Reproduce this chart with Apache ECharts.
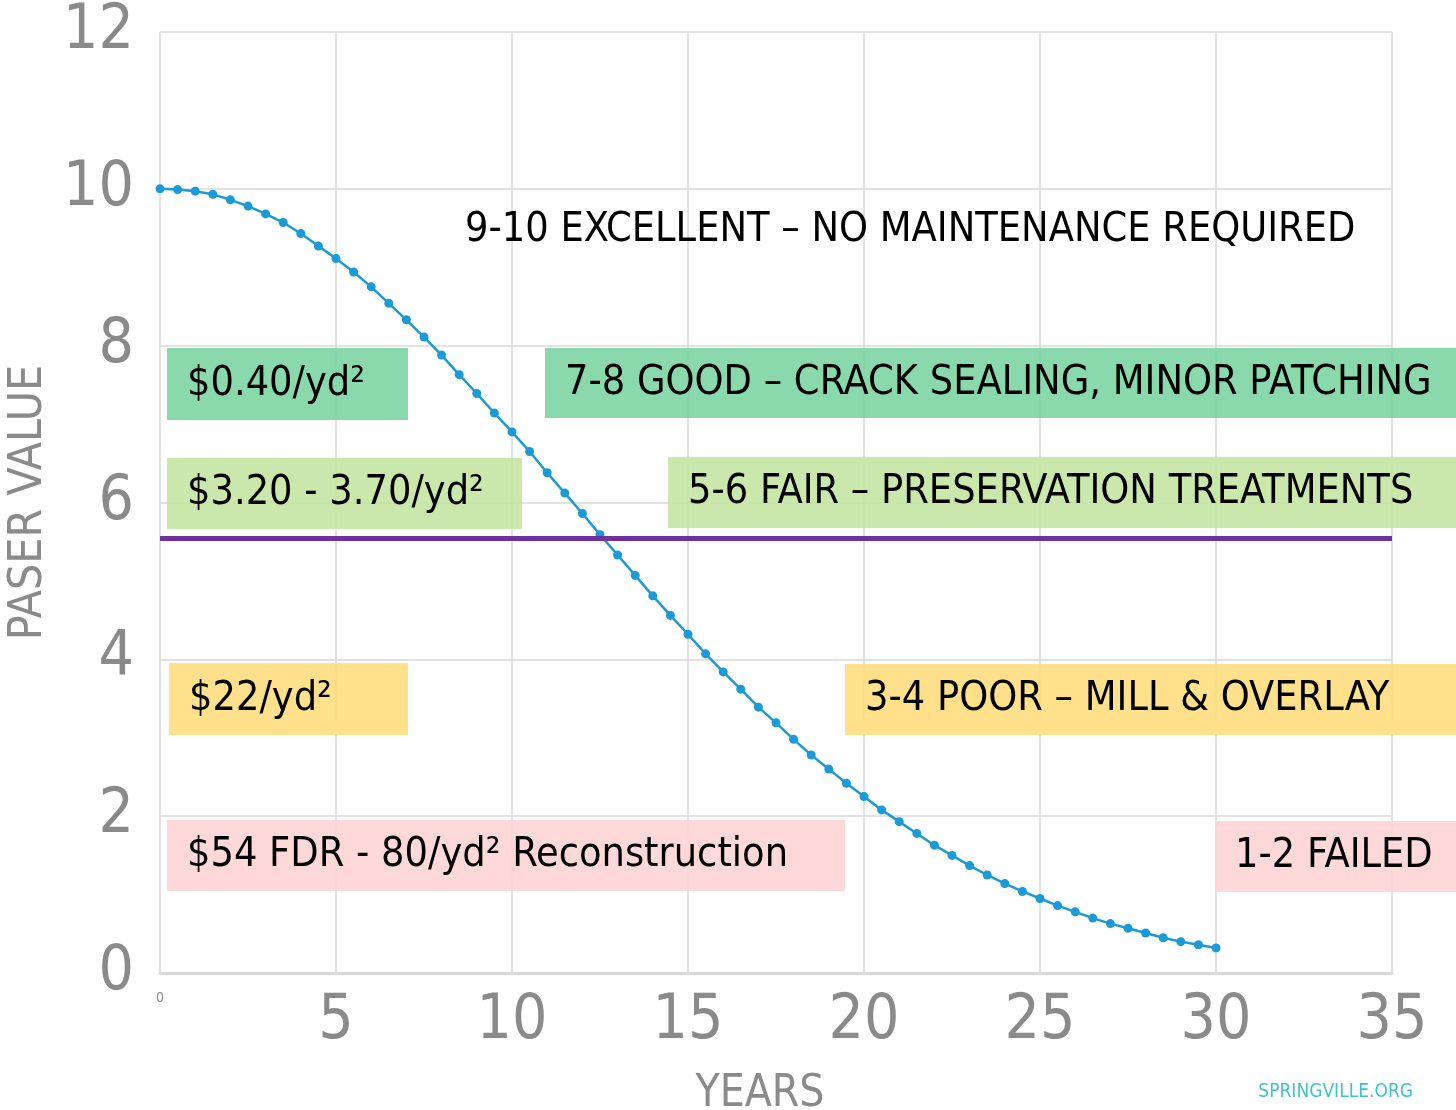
<!DOCTYPE html>
<html>
<head>
<meta charset="utf-8">
<title>PASER value over years</title>
<script src="https://cdn.jsdelivr.net/npm/echarts@6/dist/echarts.min.js"></script>
<style>
  html, body { margin: 0; padding: 0; background: #fff; }
  #chart { width: 1456px; height: 1110px; }
</style>
</head>
<body>
<div id="chart"></div>
<script>
// pavement condition curve (every half year)
const years = [
  0, 0.5, 1, 1.5, 2, 2.5, 3, 3.5, 4, 4.5,
  5, 5.5, 6, 6.5, 7, 7.5, 8, 8.5, 9, 9.5,
  10, 10.5, 11, 11.5, 12, 12.5, 13, 13.5, 14, 14.5,
  15, 15.5, 16, 16.5, 17, 17.5, 18, 18.5, 19, 19.5,
  20, 20.5, 21, 21.5, 22, 22.5, 23, 23.5, 24, 24.5,
  25, 25.5, 26, 26.5, 27, 27.5, 28, 28.5, 29, 29.5, 30
];
const paser = [
  10.00, 9.99, 9.97, 9.93, 9.86, 9.78, 9.68, 9.57, 9.43, 9.27,
  9.11, 8.94, 8.75, 8.54, 8.33, 8.11, 7.88, 7.63, 7.39, 7.14,
  6.90, 6.65, 6.38, 6.12, 5.86, 5.59, 5.33, 5.07, 4.81, 4.56,
  4.32, 4.07, 3.84, 3.62, 3.39, 3.19, 2.98, 2.78, 2.60, 2.42,
  2.25, 2.08, 1.93, 1.78, 1.63, 1.50, 1.37, 1.25, 1.14, 1.04,
  0.95, 0.86, 0.78, 0.70, 0.63, 0.57, 0.51, 0.45, 0.40, 0.36, 0.32
];
const threshold = 5.55;

const costLabels = ['$0.40/yd²', '$3.20 - 3.70/yd²', '$22/yd²', '$54 FDR - 80/yd² Reconstruction'];
const ratingLabels = [
  '7-8 GOOD – CRACK SEALING, MINOR PATCHING',
  '5-6 FAIR – PRESERVATION TREATMENTS',
  '3-4 POOR – MILL & OVERLAY',
  '1-2 FAILED'
];
const topLabel = '9-10 EXCELLENT – NO MAINTENANCE REQUIRED';
const bandColors = ['rgba(124,213,164,0.9)', 'rgba(197,230,163,0.9)', 'rgba(255,221,126,0.9)', 'rgba(255,212,213,0.88)'];

const FONT = '"DejaVu Sans Condensed", "DejaVu Sans", sans-serif';
const GRAY = '#8a8a8a';

// box layout [x, y, w, h] in pixels
const costBoxes = [[167, 348, 241, 72], [167, 458, 355, 71], [169, 663, 239, 72], [167, 820, 678, 71]];
const ratingBoxes = [[545, 348, 911, 70], [668, 457, 788, 71], [845, 664, 611, 71], [1215, 821, 241, 71]];

function box(b, text, color) {
  return {
    type: 'group',
    z: 1,
    children: [
      { type: 'rect', z: 1, shape: { x: b[0], y: b[1], width: b[2], height: b[3] }, style: { fill: color } },
      {
        type: 'text', z: 2, x: b[0] + 20, y: b[1] + b[3] / 2,
        style: { text: text, fill: '#000', font: '41px ' + FONT, verticalAlign: 'middle' }
      }
    ]
  };
}

const graphics = [];
costLabels.forEach((t, i) => graphics.push(box(costBoxes[i], t, bandColors[i])));
ratingLabels.forEach((t, i) => graphics.push(box(ratingBoxes[i], t, bandColors[i])));
graphics.push({
  type: 'text', x: 465, y: 230, z: 2,
  style: { text: topLabel, fill: '#000', font: '41px ' + FONT, verticalAlign: 'middle' }
});
graphics.push({
  type: 'text', x: 1413, y: 1092,
  style: { text: 'SPRINGVILLE.ORG', fill: '#3fc3d3', font: '19px ' + FONT, align: 'right', verticalAlign: 'middle' }
});

const chart = echarts.init(document.getElementById('chart'));
chart.setOption({
  animation: false,
  grid: { left: 160, right: 64, top: 32, bottom: 137, containLabel: false, outerBoundsMode: 'none' },
  xAxis: {
    type: 'value', min: 0, max: 35, interval: 5,
    name: 'YEARS', nameLocation: 'middle', nameGap: 100,
    nameTextStyle: { color: GRAY, fontSize: 44, fontFamily: FONT, padding: [0, 32, 0, 0] },
    axisLine: { show: true, lineStyle: { color: '#d9d9d9', width: 3 } },
    axisTick: { show: false },
    splitLine: { show: true, lineStyle: { color: '#d9d9d9', width: 1.5 } },
    axisLabel: {
      margin: 18, color: GRAY, fontSize: 62, fontFamily: FONT,
      formatter: v => v === 0 ? '{s|0}' : String(v),
      rich: { s: { fontSize: 14, color: GRAY, fontFamily: FONT, verticalAlign: 'top' } }
    }
  },
  yAxis: {
    type: 'value', min: 0, max: 12, interval: 2,
    name: 'PASER VALUE', nameLocation: 'middle', nameGap: 104, nameRotate: 90,
    nameTextStyle: { color: GRAY, fontSize: 46, fontFamily: FONT },
    axisLine: { show: false },
    axisTick: { show: false },
    splitLine: { show: true, lineStyle: { color: '#d9d9d9', width: 1.5 } },
    axisLabel: { margin: 26, color: GRAY, fontSize: 62, fontFamily: FONT }
  },
  series: [{
    type: 'line',
    data: years.map((x, i) => [x, paser[i]]),
    smooth: false,
    symbol: 'circle', symbolSize: 9,
    lineStyle: { color: '#1a9ad6', width: 2.5 },
    itemStyle: { color: '#1a9ad6' },
    z: 3,
    markLine: {
      silent: true, symbol: 'none', label: { show: false },
      lineStyle: { color: '#7030a0', width: 5, type: 'solid' },
      data: [{ yAxis: threshold }]
    }
  }],
  graphic: graphics
});
</script>
</body>
</html>
